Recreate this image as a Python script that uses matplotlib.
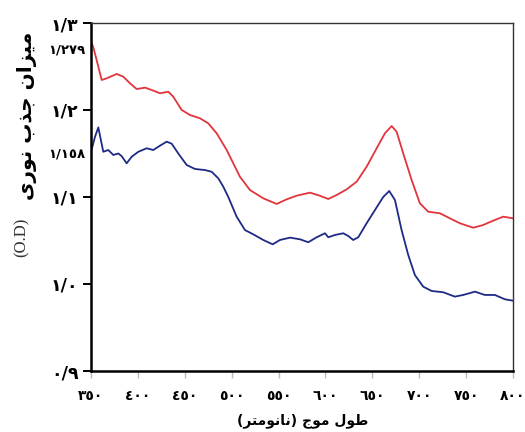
import matplotlib
matplotlib.use("Agg")
import matplotlib.pyplot as plt
from matplotlib.transforms import blended_transform_factory

# ---------------- data ----------------
wl_red = [350, 352.5, 356, 361.4, 366.7, 377.4, 384.4, 391.6, 398.7, 407.6, 414.7,
          423.6, 432.4, 437.7, 446.7, 455.5, 466.2, 475, 484, 494.7, 508.8,
          519.5, 533.7, 548, 558.6, 569.3, 583.5, 594, 603, 612, 622.6,
          633.3, 643.9, 654.6, 663.4, 670.6, 675.9, 683, 691.9, 700.7, 709.6,
          722, 732.7, 743.4, 757.6, 768.2, 778.9, 789.6, 800]
od_red = [1.279, 1.272, 1.2575, 1.2345, 1.2364, 1.2414, 1.2383, 1.2307, 1.2241, 1.2257, 1.223,
          1.2192, 1.221, 1.2153, 1.200, 1.1943, 1.1905, 1.1847, 1.1732, 1.154, 1.1233,
          1.108, 1.0985, 1.092, 1.0973, 1.1015, 1.105, 1.1015, 1.0977, 1.1023, 1.1088,
          1.1176, 1.1348, 1.156, 1.1732, 1.1816, 1.175, 1.15, 1.1195, 1.0928, 1.0831,
          1.0813, 1.0755, 1.0698, 1.0647, 1.0678, 1.0728, 1.0774, 1.0755]

wl_blue = [350, 354.3, 357.8, 363.1, 368.4, 373.8, 379.1, 382.7, 388, 393.4,
           400.5, 409.3, 416.4, 423.6, 430.7, 436, 443.1, 452, 460.9, 471.5,
           478.7, 485.7, 491, 496.4, 505.3, 514.2, 523, 533.7, 543.7, 551.5,
           562.2, 572.8, 581.7, 590.6, 599.5, 603, 610, 619, 624.3, 629.6,
           635, 643.9, 652.8, 661.6, 668, 674.1, 681.2, 688.3, 695.4, 704.3,
           713.2, 725.6, 738, 746.9, 759.4, 770, 780.7, 791.4, 800]
od_blue = [1.152, 1.1693, 1.180, 1.152, 1.154, 1.1483, 1.150, 1.147, 1.1387, 1.1463,
           1.152, 1.156, 1.154, 1.159, 1.1636, 1.1613, 1.150, 1.1368, 1.1322, 1.131,
           1.129, 1.1215, 1.112, 1.100, 1.0774, 1.062, 1.0571, 1.0506, 1.0456, 1.0506,
           1.0533, 1.0514, 1.048, 1.0537, 1.0583, 1.0537, 1.0563, 1.0583, 1.0552, 1.0506,
           1.0537, 1.0698, 1.085, 1.100, 1.1069, 1.0966, 1.062, 1.0333, 1.0103, 0.9969,
           0.992, 0.9905, 0.9855, 0.9874, 0.9912, 0.9874, 0.9874, 0.9824, 0.9808]

x_ticks = [350, 400, 450, 500, 550, 600, 650, 700, 750, 800]
x_tick_labels = ["٣٥٠", "٤٠٠", "٤٥٠", "٥٠٠", "٥٥٠", "٦٠٠", "٦٥٠", "٧٠٠", "٧٥٠", "٨٠٠"]
y_ticks = [0.9, 1.0, 1.1, 1.2, 1.3]
y_tick_labels = ["٠/٩", "١/٠", "١/١", "١/٢", "١/٣"]
extra_label_values = [1.269, 1.149]
extra_labels = ["١/٢٧٩", "١/١٥٨"]

x_label = "طول موج (نانومتر)"
y_label = "میزان جذب نوری"
y_label_unit = "(O.D)"

# ---------------- minimal Arabic shaping ----------------
FORMS = {
    'ا': ('\uFE8D', '\uFE8E', None, None),
    'ب': ('\uFE8F', '\uFE90', '\uFE91', '\uFE92'),
    'ت': ('\uFE95', '\uFE96', '\uFE97', '\uFE98'),
    'ج': ('\uFE9D', '\uFE9E', '\uFE9F', '\uFEA0'),
    'ذ': ('\uFEAB', '\uFEAC', None, None),
    'ر': ('\uFEAD', '\uFEAE', None, None),
    'ز': ('\uFEAF', '\uFEB0', None, None),
    'ط': ('\uFEC1', '\uFEC2', '\uFEC3', '\uFEC4'),
    'ل': ('\uFEDD', '\uFEDE', '\uFEDF', '\uFEE0'),
    'م': ('\uFEE1', '\uFEE2', '\uFEE3', '\uFEE4'),
    'ن': ('\uFEE5', '\uFEE6', '\uFEE7', '\uFEE8'),
    'و': ('\uFEED', '\uFEEE', None, None),
    'ی': ('\uFEEF', '\uFEF0', '\uFEF3', '\uFEF4'),
}


def shape(s):
    out = []
    for i, c in enumerate(s):
        if c not in FORMS:
            out.append(c)
            continue
        f = FORMS[c]
        prev = s[i - 1] if i > 0 else ''
        nxt = s[i + 1] if i + 1 < len(s) else ''
        jp = prev in FORMS and FORMS[prev][2] is not None
        jn = f[2] is not None and nxt in FORMS
        if jp and jn:
            out.append(f[3])
        elif jp:
            out.append(f[1])
        elif jn:
            out.append(f[2])
        else:
            out.append(f[0])
    vis = ''.join(reversed(out))
    return vis.translate(str.maketrans('()', ')('))


plt.rcParams['font.family'] = ['DejaVu Sans']

W, H = 525, 432
fig = plt.figure(figsize=(W / 100, H / 100), dpi=100)
ax = fig.add_axes([91 / W, 1 - 371 / H, (513 - 91) / W, (371 - 23) / H])

ax.plot(wl_red, od_red, color='#e2343c', lw=1.3)
ax.plot(wl_blue, od_blue, color='#1d2a86', lw=1.3)

ax.set_xlim(350, 800)
ax.set_ylim(0.9, 1.3)

ax.set_xticks(x_ticks)
ax.set_xticklabels(x_tick_labels, fontsize=10, fontweight='bold')
ax.set_yticks(y_ticks)
ax.set_yticklabels(y_tick_labels, fontsize=12.5, fontweight='bold')

ax.tick_params(axis='x', direction='out', length=5, width=1, color='#bbbbbb', pad=8)
ax.tick_params(axis='y', direction='out', length=6, width=1.4, color='black', pad=3)

for side in ['left', 'bottom']:
    ax.spines[side].set_linewidth(1.8)
    ax.spines[side].set_color('black')
for side in ['top', 'right']:
    ax.spines[side].set_linewidth(1.0)
    ax.spines[side].set_color('#333333')

trans = blended_transform_factory(fig.transFigure, ax.transData)
for v, lab in zip(extra_label_values, extra_labels):
    ax.text(85 / W, v, lab, transform=trans, ha='right', va='center',
            fontsize=9.5, fontweight='bold')

fig.text(303 / W, 1 - 421 / H, shape(x_label), ha='center', va='center',
         fontsize=10, fontweight='bold')
fig.text(27 / W, 1 - 116 / H, shape(y_label), ha='center', va='center',
         rotation=90, fontsize=14.5, fontweight='bold')
fig.text(22 / W, 1 - 237 / H, y_label_unit, ha='center', va='center',
         rotation=90, fontsize=12, family='Liberation Serif', color='#333333')

fig.savefig('out.png', dpi=100)
